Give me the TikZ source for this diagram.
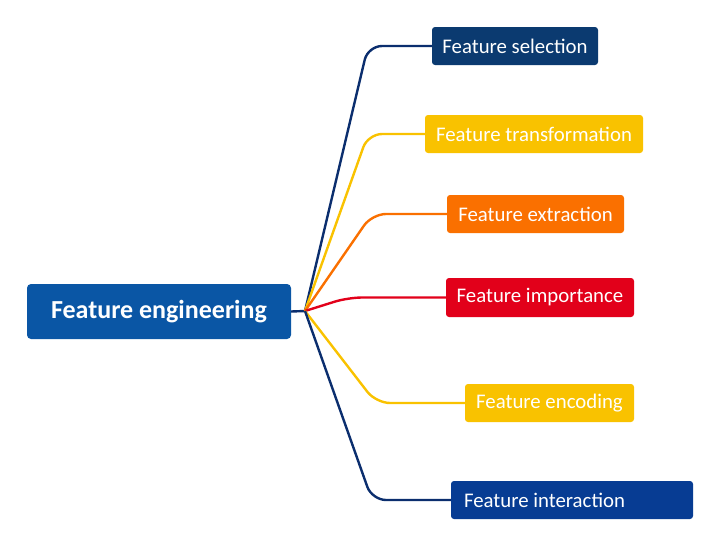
\documentclass[tikz,border=0pt]{standalone}
\usepackage{fontspec}
\setmainfont{Carlito}
\begin{document}
\definecolor{navy}{HTML}{0B3A70}
\definecolor{rootblue}{HTML}{0A56A5}
\definecolor{gold}{HTML}{F9C200}
\definecolor{orangeb}{HTML}{FA7000}
\definecolor{redb}{HTML}{E2001A}
\definecolor{deepblue}{HTML}{073C93}
\definecolor{navyline}{HTML}{0B2E6E}
\begin{tikzpicture}[x=1pt,y=-1pt,
  leaffont/.style={text=white, font=\fontsize{20.8}{23}\selectfont},
  leaf/.style={leaffont, rounded corners=3pt, minimum height=38pt, inner sep=0pt},
  branch/.style={line width=2.4pt, rounded corners=14pt},
  stem/.style={line width=2.4pt}]
\useasboundingbox (0,0) rectangle (720,546);
% central topic
\node[fill=rootblue, rounded corners=4pt, text=white, font=\bfseries\fontsize{26}{30}\selectfont,
  minimum width=264pt, minimum height=55pt, inner sep=0pt] (root) at (159,311.5) {Feature engineering};
% subtopics
\node[leaf, fill=navy, minimum width=166pt] (sel) at (515,46) {Feature selection};
\node[leaf, fill=gold, minimum width=218pt] (tra) at (534,134) {Feature transformation};
\node[leaf, fill=orangeb, minimum width=177pt] (ext) at (535.5,214) {Feature extraction};
\node[leaf, fill=redb, minimum width=188pt, minimum height=39pt] (imp) at (540,297.5) {Feature importance};
\node[leaf, fill=gold, minimum width=169pt] (enc) at (549.5,403) {Feature encoding};
% the last box is wider than its text, which sits at its left
\node[leaf, fill=deepblue, minimum width=242pt] (int) at (572,500) {};
\node[leaffont, anchor=west, inner sep=0pt] (intlabel) at ([xshift=13pt]int.west) {Feature interaction};
% hub where the branches split
\coordinate (hub) at (305,311);
\draw[stem, navyline] (root.east) -- (hub);
% branches
\draw[branch, navyline] (hub) -- (368,46) -- (sel.west);
\draw[branch, gold] (hub) -- (368,134) -- (tra.west);
\draw[branch, orangeb] (hub) -- (372,214) -- (ext.west);
\draw[branch, redb] (hub) -- (348,297.5) -- (imp.west);
\draw[branch, gold] (hub) -- (376,403) -- (enc.west);
\draw[branch, navyline] (hub) -- (372,500) -- (int.west);
\end{tikzpicture}
\end{document}
